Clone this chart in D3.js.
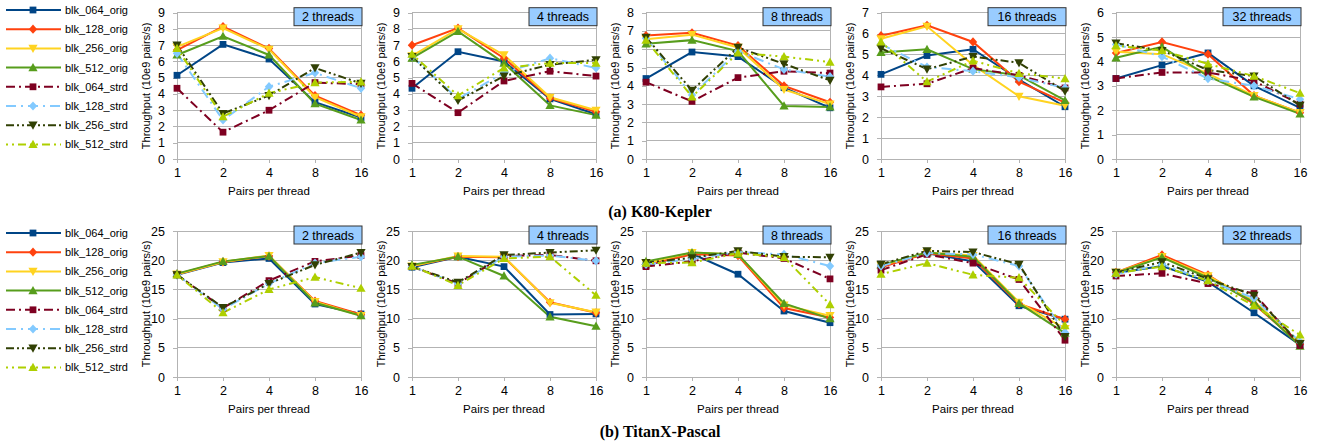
<!DOCTYPE html>
<html><head><meta charset="utf-8">
<script src="https://cdn.jsdelivr.net/npm/d3@7"></script>
<style>body{margin:0;background:#fff}</style>
</head><body><svg id="c" width="1317" height="442"></svg>
<script>
const seriesNames = ["blk_064_orig","blk_128_orig","blk_256_orig","blk_512_orig","blk_064_strd","blk_128_strd","blk_256_strd","blk_512_strd"];
const seriesColors = ["#004586","#ff420e","#ffd320","#579d1c","#7e0021","#83caff","#314004","#aecf00"];
const seriesDash = [null,null,null,null,"9,4,2,4","10,5,2,5","8,3,2,3,2,3","2,4,2,4,8,4"];
const seriesMarker = ["square","diamond","down","up","square","diamond","down","up"];
const pairsPerThread = ["1","2","4","8","16"];
const threadLabels = ["2 threads","4 threads","8 threads","16 threads","32 threads"];
const k80YMax = [9,9,8,7,6];
const titanYMax = [25,25,25,25,25];
const titanTickStep = 5;
const k80TickStep = 1;

// K80-Kepler, one row per series (in seriesNames order), values at pairs 1,2,4,8,16
const k80_t2 = [
 [5.15,7.05,6.15,3.5,2.55],[6.7,8.15,6.8,3.9,2.7],[6.9,8.05,6.75,3.8,2.6],[6.4,7.55,6.4,3.4,2.4],
 [4.35,1.65,3.0,4.7,4.6],[6.5,2.4,4.45,5.3,4.35],[7.0,2.8,3.9,5.6,4.65],[6.8,2.6,4.05,4.7,4.75]];
const k80_t4 = [
 [4.35,6.6,6.0,3.7,2.75],[7.0,8.05,6.2,3.75,2.9],[6.35,8.0,6.4,3.8,3.0],[6.2,7.85,5.9,3.3,2.7],
 [4.65,2.85,4.8,5.4,5.1],[6.3,3.7,5.3,6.2,5.6],[6.3,3.6,5.1,5.8,6.1],[6.45,3.9,5.6,5.9,5.9]];
const k80_t8 = [
 [4.4,5.85,5.6,3.9,2.8],[6.75,6.9,6.2,4.0,3.1],[6.55,6.8,6.1,3.8,3.0],[6.3,6.5,5.9,2.9,2.85],
 [4.2,3.15,4.45,4.8,4.7],[6.6,3.5,5.9,4.9,4.5],[6.65,3.75,6.1,5.2,4.3],[6.5,3.4,5.8,5.6,5.3]];
const k80_t16 = [
 [4.05,4.95,5.25,3.8,2.5],[5.9,6.4,5.6,3.7,2.7],[5.75,6.35,4.5,3.0,2.55],[5.1,5.25,4.3,4.0,2.8],
 [3.45,3.6,4.35,4.0,3.4],[5.5,4.4,4.2,3.9,3.4],[5.3,4.3,4.9,4.6,3.25],[5.6,3.7,4.7,4.1,3.85]];
const k80_t32 = [
 [3.3,3.85,4.35,3.0,2.1],[4.35,4.8,4.3,2.6,1.9],[4.4,4.3,3.5,2.6,1.9],[4.15,4.6,3.4,2.55,1.85],
 [3.3,3.55,3.55,3.2,2.25],[4.7,4.2,3.3,3.0,2.45],[4.75,4.45,3.65,3.4,2.2],[4.65,4.45,3.9,3.4,2.7]];

// TitanX-Pascal
const titan_t2 = [
 [17.5,19.6,20.3,12.5,10.8],[17.6,19.7,20.7,13.0,10.7],[17.6,19.7,20.8,12.9,10.5],[17.7,19.8,20.7,12.7,10.5],
 [17.5,11.8,16.5,19.8,20.8],[17.5,11.6,16.0,19.5,20.6],[17.5,11.9,16.0,19.2,21.3],[17.5,11.0,15.0,17.1,15.2]];
const titan_t4 = [
 [18.8,20.6,18.9,10.7,10.8],[19.0,20.6,20.5,12.8,11.0],[19.0,20.7,20.6,12.7,11.1],[19.2,20.6,17.3,10.3,8.7],
 [18.9,16.0,20.7,20.9,19.9],[18.9,16.0,20.6,20.8,19.9],[18.9,16.2,20.9,21.3,21.7],[19.0,15.7,20.3,20.6,14.0]];
const titan_t8 = [
 [19.1,21.1,17.6,11.3,9.3],[19.2,21.0,20.8,11.8,10.2],[19.5,21.3,21.0,12.3,10.5],[19.8,21.3,21.0,12.6,10.0],
 [18.9,19.8,21.3,20.3,16.8],[19.3,20.2,21.4,21.0,19.0],[19.6,20.4,21.6,20.6,20.5],[19.5,19.6,21.2,20.5,12.4]];
const titan_t16 = [
 [19.0,21.2,19.8,12.2,9.9],[18.8,21.2,20.3,12.5,9.9],[19.1,21.3,20.8,12.8,8.3],[19.2,21.3,20.6,12.6,7.5],
 [18.3,21.0,19.5,16.7,6.3],[19.0,21.2,21.0,19.0,7.6],[19.3,21.6,21.4,19.3,6.9],[17.6,19.5,17.5,17.0,8.8]];
const titan_t32 = [
 [17.8,19.0,16.3,11.0,5.5],[17.9,20.9,17.5,12.5,5.6],[17.9,20.6,17.3,13.0,5.8],[17.8,20.5,17.0,12.8,5.3],
 [17.3,17.75,16.0,14.3,5.4],[17.6,19.3,16.5,13.5,6.0],[17.9,19.7,16.8,14.0,5.7],[17.8,18.9,16.5,12.2,7.2]];

const k80Panels = [k80_t2,k80_t4,k80_t8,k80_t16,k80_t32];
const titanPanels = [titan_t2,titan_t4,titan_t8,titan_t16,titan_t32];

const svg = d3.select("#c");
const FONT = "'Liberation Sans', Arial, sans-serif";
const panelLeft = [177, 412, 646, 881, 1116];
const plotW = 184;
const rows = [
  {top: 12.7, bottom: 159, panels: k80Panels, ymax: k80YMax, step: k80TickStep, caption: "(a) K80-Kepler", capY: 217, legendY: 10},
  {top: 231, bottom: 377, panels: titanPanels, ymax: titanYMax, step: titanTickStep, caption: "(b) TitanX-Pascal", capY: 437, legendY: 233}
];

function markerPath(kind) {
  if (kind === "square") return d3.symbol(d3.symbolSquare, 46)();
  if (kind === "diamond") return "M0,-4.6L4.2,0L0,4.6L-4.2,0Z";
  if (kind === "up") return "M0,-4.6L4.6,3.6L-4.6,3.6Z";
  return "M0,4.6L4.6,-3.6L-4.6,-3.6Z";
}

rows.forEach(row => {
  row.panels.forEach((panel, pi) => {
    const left = panelLeft[pi];
    const g = svg.append("g");
    const x = d3.scalePoint().domain(pairsPerThread).range([left, left + plotW]);
    const y = d3.scaleLinear().domain([0, row.ymax[pi]]).range([row.bottom, row.top]);
    const ticks = d3.range(0, row.ymax[pi] + 0.001, row.step);
    // grid
    g.selectAll(".grid").data(ticks).join("line")
      .attr("x1", left).attr("x2", left + plotW)
      .attr("y1", d => y(d)).attr("y2", d => y(d))
      .attr("stroke", "#b3b3b3").attr("stroke-width", 1).attr("shape-rendering", "crispEdges");
    g.append("line").attr("x1", left + plotW).attr("x2", left + plotW)
      .attr("y1", row.top).attr("y2", row.bottom)
      .attr("stroke", "#b3b3b3").attr("shape-rendering", "crispEdges");
    // axes
    const ya = g.append("g").attr("transform", `translate(${left},0)`)
      .call(d3.axisLeft(y).tickValues(ticks).tickSize(4).tickSizeOuter(0).tickPadding(8).tickFormat(d3.format("d")));
    const xa = g.append("g").attr("transform", `translate(0,${row.bottom})`)
      .call(d3.axisBottom(x).tickSize(4).tickSizeOuter(0).tickPadding(5));
    [ya, xa].forEach(a => {
      a.selectAll("path,line").attr("stroke", "#b3b3b3").attr("shape-rendering", "crispEdges");
      a.selectAll("text").attr("font-family", FONT).attr("font-size", 12.5).attr("fill", "#000");
    });
    // axis titles
    g.append("text").attr("transform", `translate(${left - 27},${(row.top + row.bottom) / 2}) rotate(-90)`)
      .attr("text-anchor", "middle").attr("font-family", FONT).attr("font-size", 11).text("Throughput (10e9 pairs/s)");
    g.append("text").attr("x", left + plotW / 2).attr("y", row.bottom + 36)
      .attr("text-anchor", "middle").attr("font-family", FONT).attr("font-size", 11.5).text("Pairs per thread");
    // series
    const line = d3.line().x((d, i) => x(pairsPerThread[i])).y(d => y(d));
    panel.forEach((vals, si) => {
      g.append("path").attr("d", line(vals)).attr("fill", "none")
        .attr("stroke", seriesColors[si]).attr("stroke-width", 2)
        .attr("stroke-dasharray", seriesDash[si]);
    });
    panel.forEach((vals, si) => {
      g.selectAll(null).data(vals).join("path")
        .attr("transform", (d, i) => `translate(${x(pairsPerThread[i])},${y(d)})`)
        .attr("d", markerPath(seriesMarker[si])).attr("fill", seriesColors[si]);
    });
    // title box
    const bw = threadLabels[pi].length > 9 ? 78 : 68;
    const bx = left + plotW + 1 - bw;
    const by = row.top - 5;
    g.append("rect").attr("x", bx).attr("y", by).attr("width", bw).attr("height", 18)
      .attr("fill", "#99ccff").attr("stroke", "#333").attr("stroke-width", 1);
    g.append("text").attr("x", bx + bw / 2).attr("y", by + 13.5).attr("text-anchor", "middle")
      .attr("font-family", FONT).attr("font-size", 12.5).text(threadLabels[pi]);
  });
  // legend
  const lg = svg.append("g");
  seriesNames.forEach((name, si) => {
    const yy = row.legendY + si * 19.2;
    lg.append("line").attr("x1", 6).attr("x2", 61).attr("y1", yy).attr("y2", yy)
      .attr("stroke", seriesColors[si]).attr("stroke-width", 2).attr("stroke-dasharray", seriesDash[si]);
    lg.append("path").attr("transform", `translate(33,${yy})`).attr("d", markerPath(seriesMarker[si])).attr("fill", seriesColors[si]);
    lg.append("text").attr("x", 65).attr("y", yy + 4).attr("font-family", FONT).attr("font-size", 11).text(name);
  });
  // caption
  svg.append("text").attr("x", 660).attr("y", row.capY).attr("text-anchor", "middle")
    .attr("font-family", "'Liberation Serif', 'Times New Roman', serif").attr("font-weight", "bold")
    .attr("font-size", 16).text(row.caption);
});
</script></body></html>
